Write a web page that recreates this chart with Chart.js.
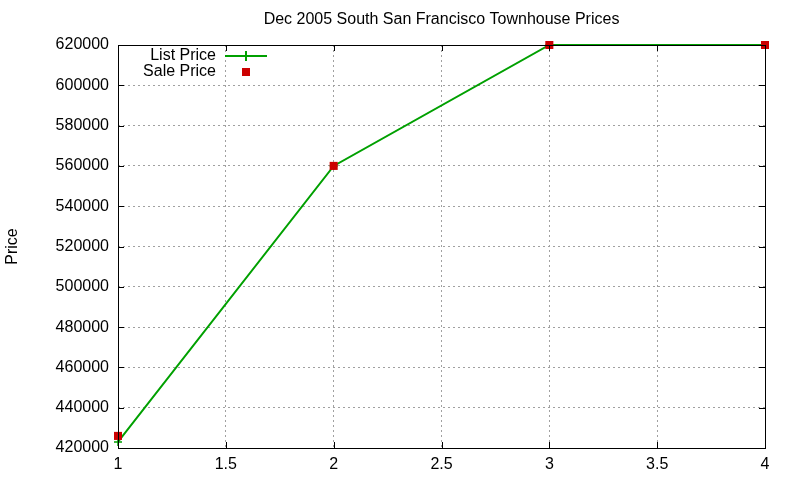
<!DOCTYPE html>
<html>
<head>
<meta charset="utf-8">
<script src="https://cdn.jsdelivr.net/npm/chart.js@4/dist/chart.umd.min.js"></script>
<style>
  html, body { margin: 0; padding: 0; background: #fff; }
  #wrap { width: 800px; height: 480px; }
</style>
</head>
<body>
<div id="wrap"><canvas id="priceChart" width="800" height="480"></canvas></div>
<script>
// data
const xValues = [1, 2, 3, 4];
const listPrice = [423000, 560000, 620000, 620000];
const salePrice = [426000, 560000, 620000, 620000];
const xTicks = [1, 1.5, 2, 2.5, 3, 3.5, 4];
const yTicks = [420000, 440000, 460000, 480000, 500000, 520000, 540000, 560000, 580000, 600000, 620000];
const chartTitle = 'Dec 2005 South San Francisco Townhouse Prices';

const FONT = "'Liberation Sans', Arial, sans-serif";
const GREEN = '#00a000';
const RED = '#cc0000';

// gnuplot look: title over the plot, border box, inward ticks, legend with text on the left
const gnuplotFrame = {
  id: 'gnuplotFrame',
  afterDatasetsDraw(chart) {
    const { ctx, chartArea: a, scales } = chart;
    ctx.save();
    ctx.font = '16px ' + FONT;
    ctx.fillStyle = '#000';
    ctx.textAlign = 'center';
    ctx.textBaseline = 'middle';
    ctx.fillText(chartTitle, (a.left + a.right) / 2, 20);

    ctx.strokeStyle = '#000';
    ctx.lineWidth = 1;
    ctx.beginPath();
    xTicks.forEach(v => {
      const px = Math.round(scales.x.getPixelForValue(v)) + 0.5;
      ctx.moveTo(px, a.bottom); ctx.lineTo(px, a.bottom - 6);
      ctx.moveTo(px, a.top); ctx.lineTo(px, a.top + 6);
    });
    yTicks.forEach(v => {
      const py = Math.round(scales.y.getPixelForValue(v)) + 0.5;
      ctx.moveTo(a.left, py); ctx.lineTo(a.left + 6, py);
      ctx.moveTo(a.right, py); ctx.lineTo(a.right - 6, py);
    });
    ctx.stroke();
    ctx.strokeRect(Math.round(a.left) + 0.5, Math.round(a.top) + 0.5,
                   Math.round(a.right - a.left), Math.round(a.bottom - a.top));

    // legend
    ctx.textAlign = 'right';
    const tx = a.left + 98;
    const sx = a.left + 128;
    ctx.fillText('List Price', tx, a.top + 11);
    ctx.fillText('Sale Price', tx, a.top + 27);
    ctx.strokeStyle = GREEN;
    ctx.lineWidth = 2;
    ctx.beginPath();
    ctx.moveTo(a.left + 107, a.top + 11); ctx.lineTo(a.left + 149, a.top + 11);
    ctx.moveTo(sx, a.top + 6); ctx.lineTo(sx, a.top + 16);
    ctx.stroke();
    ctx.fillStyle = RED;
    ctx.fillRect(sx - 4, a.top + 23, 8, 8);
    ctx.restore();
  }
};

const ctx = document.getElementById('priceChart').getContext('2d');
const chart = new Chart(ctx, {
  type: 'line',
  data: {
    datasets: [
      {
        label: 'List Price',
        data: xValues.map((x, i) => ({ x: x, y: listPrice[i] })),
        borderColor: GREEN,
        backgroundColor: GREEN,
        borderWidth: 2,
        pointStyle: 'cross',
        pointRadius: 4,
        pointBorderWidth: 1.5,
        tension: 0,
        clip: false,
        order: 1
      },
      {
        label: 'Sale Price',
        data: xValues.map((x, i) => ({ x: x, y: salePrice[i] })),
        showLine: false,
        borderColor: RED,
        backgroundColor: RED,
        pointStyle: 'rect',
        pointRadius: 5.7,
        pointBorderWidth: 0,
        clip: false,
        order: 0
      }
    ]
  },
  options: {
    responsive: false,
    animation: false,
    layout: { padding: { left: 0, right: 35, top: 45, bottom: 0 } },
    scales: {
      x: {
        type: 'linear',
        min: 1,
        max: 4,
        afterFit: s => { s.height = 32; },
        afterBuildTicks: s => { s.ticks = xTicks.map(v => ({ value: v })); },
        ticks: {
          color: '#000',
          padding: 7,
          maxRotation: 0,
          font: { family: FONT, size: 16 },
          callback: v => String(v)
        },
        grid: { color: '#a0a0a0', drawTicks: false },
        border: { display: false, dash: [2, 3] }
      },
      y: {
        type: 'linear',
        min: 420000,
        max: 620000,
        afterFit: s => { s.width = 118; },
        afterBuildTicks: s => { s.ticks = yTicks.map(v => ({ value: v })); },
        title: {
          display: true,
          text: 'Price',
          color: '#000',
          font: { family: FONT, size: 16 },
          padding: { top: 3, bottom: 0 }
        },
        ticks: {
          color: '#000',
          padding: 9,
          font: { family: FONT, size: 16 },
          callback: v => String(v)
        },
        grid: { color: '#a0a0a0', drawTicks: false },
        border: { display: false, dash: [2, 3] }
      }
    },
    plugins: {
      legend: { display: false },
      tooltip: { enabled: false },
      title: { display: false }
    }
  },
  plugins: [gnuplotFrame]
});
</script>
</body>
</html>
